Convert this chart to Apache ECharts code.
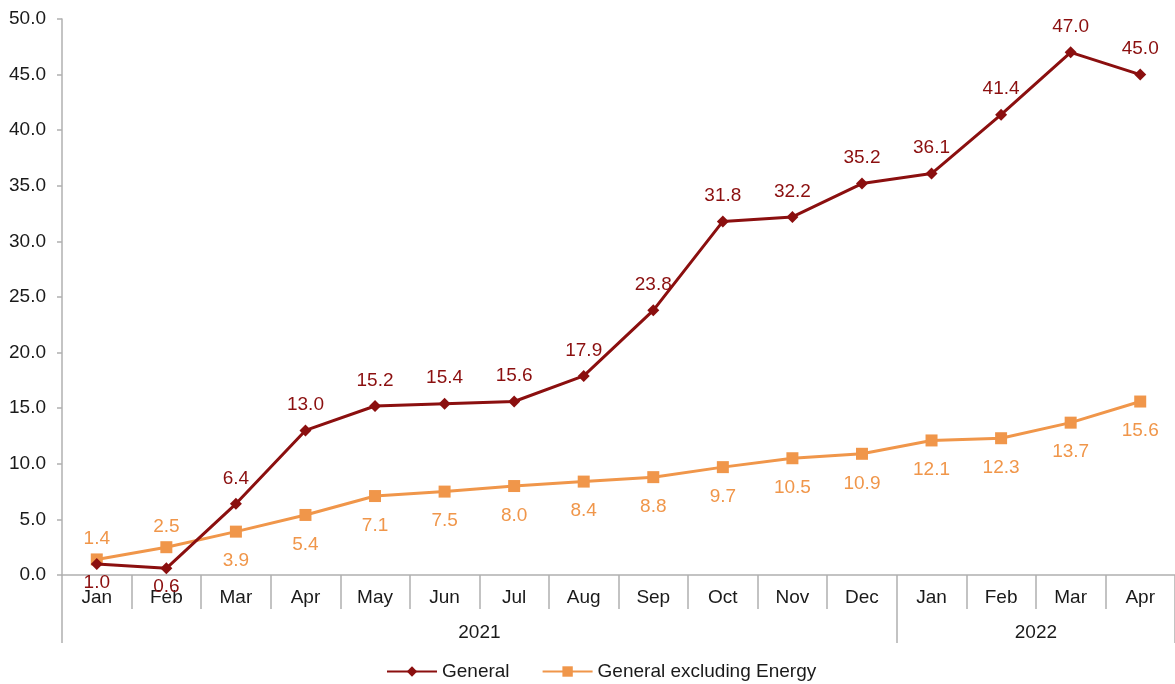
<!DOCTYPE html>
<html>
<head>
<meta charset="utf-8">
<script src="https://cdn.jsdelivr.net/npm/echarts@6/dist/echarts.min.js"></script>
<style>
  html, body { margin: 0; padding: 0; background: #ffffff; }
  #chart_div { width: 1175px; height: 684px; }
</style>
</head>
<body>
<div id="chart_div"></div>
<script>
var months = ['Jan','Feb','Mar','Apr','May','Jun','Jul','Aug','Sep','Oct','Nov','Dec','Jan','Feb','Mar','Apr'];
var years = ['2021', '2022'];
var monthsPerYear = [12, 4];
var general = [1.0, 0.6, 6.4, 13.0, 15.2, 15.4, 15.6, 17.9, 23.8, 31.8, 32.2, 35.2, 36.1, 41.4, 47.0, 45.0];
var exEnergy = [1.4, 2.5, 3.9, 5.4, 7.1, 7.5, 8.0, 8.4, 8.8, 9.7, 10.5, 10.9, 12.1, 12.3, 13.7, 15.6];

var c_general = '#8b0f0f';
var c_exenergy = '#f0964a';
var font = 'Liberation Sans, Arial, sans-serif';
var fsize = 19;

// year boundaries and centres on a 0..16 value scale
var yearTicks = [0];
var yearCentres = [];
var acc = 0;
for (var i = 0; i < monthsPerYear.length; i++) {
	yearCentres.push(acc + monthsPerYear[i] / 2);
	acc += monthsPerYear[i];
	yearTicks.push(acc);
}

// label above the higher line, below the lower one
var f_points = function(vals, other, d_up, d_down) {
	var out = [];
	for (var i = 0; i < vals.length; i++) {
		var up = vals[i] >= other[i];
		out.push({
			value: vals[i],
			label: { position: up ? 'top' : 'bottom', distance: up ? d_up : d_down }
		});
	}
	return out;
};

var chart = echarts.init(document.getElementById('chart_div'));
chart.setOption({
	backgroundColor: '#ffffff',
	animation: false,
	textStyle: { fontFamily: font },
	grid: { left: 62, right: 0, top: 19, bottom: 109, containLabel: false },
	legend: {
		top: 657,
		left: 381,
		itemWidth: 50,
		itemHeight: 13,
		itemGap: 32,
		textStyle: { fontSize: fsize, color: '#1a1a1a', fontFamily: font },
		data: ['General', 'General excluding Energy']
	},
	xAxis: [
		{
			type: 'category',
			data: months,
			boundaryGap: true,
			position: 'bottom',
			axisLine: { lineStyle: { color: '#b0b0b0', width: 1.5 } },
			axisTick: { show: true, interval: 0, length: 34, lineStyle: { color: '#b0b0b0', width: 1.5 } },
			axisLabel: { interval: 0, margin: 13, fontSize: fsize, color: '#1a1a1a', fontFamily: font }
		},
		{
			type: 'value',
			min: 0,
			max: months.length,
			position: 'bottom',
			axisLine: { show: false },
			splitLine: { show: false },
			axisTick: { show: true, length: 68, customValues: yearTicks, lineStyle: { color: '#b0b0b0', width: 1.5 } },
			axisLabel: {
				customValues: yearCentres,
				margin: 48,
				fontSize: fsize,
				color: '#1a1a1a',
				fontFamily: font,
				formatter: function(v) {
					var k = yearCentres.indexOf(v);
					return k >= 0 ? years[k] : '';
				}
			}
		}
	],
	yAxis: {
		type: 'value',
		min: 0,
		max: 50,
		interval: 5,
		axisLine: { show: true, lineStyle: { color: '#b0b0b0', width: 1.5 } },
		axisTick: { show: true, length: 5, lineStyle: { color: '#b0b0b0', width: 1.5 } },
		splitLine: { show: false },
		axisLabel: {
			margin: 16,
			fontSize: fsize,
			color: '#1a1a1a',
			fontFamily: font,
			formatter: function(v) { return v.toFixed(1); }
		}
	},
	series: [
		{
			name: 'General',
			type: 'line',
			xAxisIndex: 0,
			data: f_points(general, exEnergy, 10, 3),
			color: c_general,
			symbol: 'diamond',
			symbolSize: 12,
			lineStyle: { width: 3, color: c_general },
			itemStyle: { color: c_general },
			label: {
				show: true,
				fontSize: fsize,
				color: c_general,
				fontFamily: font,
				formatter: function(p) { return p.value.toFixed(1); }
			},
			z: 3
		},
		{
			name: 'General excluding Energy',
			type: 'line',
			xAxisIndex: 0,
			data: f_points(exEnergy, general, 5, 14),
			color: c_exenergy,
			symbol: 'rect',
			symbolSize: 12,
			lineStyle: { width: 3, color: c_exenergy },
			itemStyle: { color: c_exenergy },
			label: {
				show: true,
				fontSize: fsize,
				color: c_exenergy,
				fontFamily: font,
				formatter: function(p) { return p.value.toFixed(1); }
			},
			z: 2
		}
	]
});
</script>
</body>
</html>
